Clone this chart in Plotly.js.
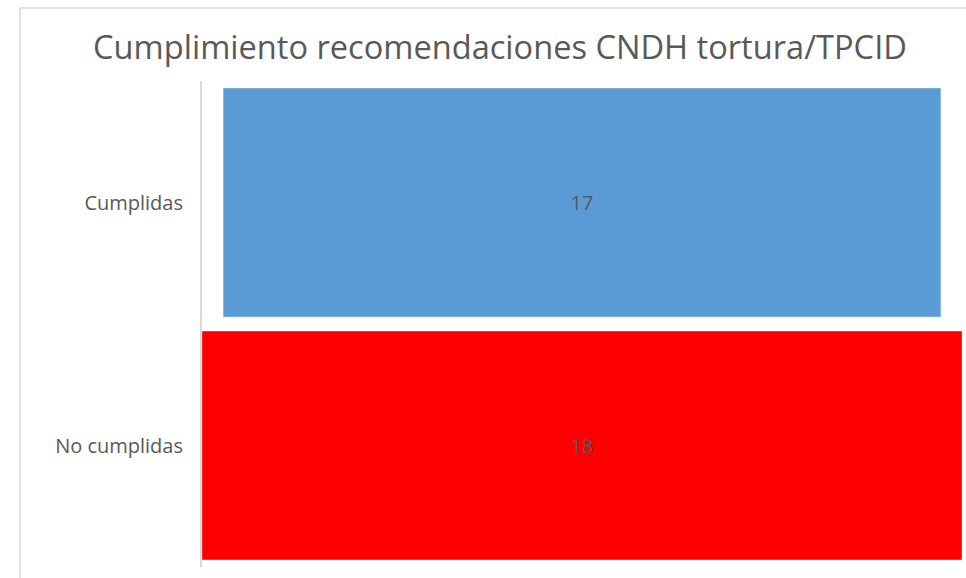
<!DOCTYPE html>
<html>
<head>
<meta charset="utf-8">
<script src="https://cdn.plot.ly/plotly-3.0.1.min.js"></script>
<style>html,body{margin:0;padding:0;background:#fff;}#chart{width:966px;height:578px;}</style>
</head>
<body>
<div id="chart"></div>
<script>
const categories = ["Cumplidas", "No cumplidas"];
const values = [17, 18];
const barColors = ["#5B9BD5", "#FF0000"];
const chartTitle = "Cumplimiento recomendaciones CNDH tortura/TPCID";

const trace = {
  type: "funnel",
  y: categories,
  x: values,
  marker: { color: barColors, line: { width: 1, color: "rgba(255,255,255,0.35)" } },
  connector: { visible: false },
  textinfo: "value",
  textposition: "inside",
  insidetextanchor: "middle",
  textfont: { family: "Open Sans, sans-serif", size: 20, color: "#595959" },
  hoverinfo: "none"
};

const layout = {
  width: 966,
  height: 578,
  paper_bgcolor: "#ffffff",
  plot_bgcolor: "#ffffff",
  margin: { l: 202, r: 4, t: 81, b: 11 },
  funnelgap: 0.058,
  showlegend: false,
  title: {
    text: chartTitle,
    font: { family: "Open Sans, sans-serif", size: 32.6, color: "#595959" },
    x: 0.5176,
    xanchor: "center",
    y: 0.918,
    yanchor: "middle"
  },
  xaxis: { visible: false, range: [-9, 9], fixedrange: true },
  yaxis: {
    showline: true,
    linecolor: "#d9d9d9",
    linewidth: 2,
    showgrid: false,
    zeroline: false,
    ticks: "",
    ticklabelstandoff: 13,
    tickfont: { family: "Open Sans, sans-serif", size: 20, color: "#595959" }
  },
  shapes: [
    { type: "line", xref: "paper", yref: "paper", x0: -0.2395, x1: -0.2395, y0: -0.2, y1: 1.1502,
      line: { color: "#d9d9d9", width: 1.5 } },
    { type: "line", xref: "paper", yref: "paper", x0: -0.2395, x1: 1.2, y0: 1.1502, y1: 1.1502,
      line: { color: "#d9d9d9", width: 1.5 } }
  ]
};

Plotly.newPlot("chart", [trace], layout, { displayModeBar: false, staticPlot: true });
</script>
</body>
</html>
